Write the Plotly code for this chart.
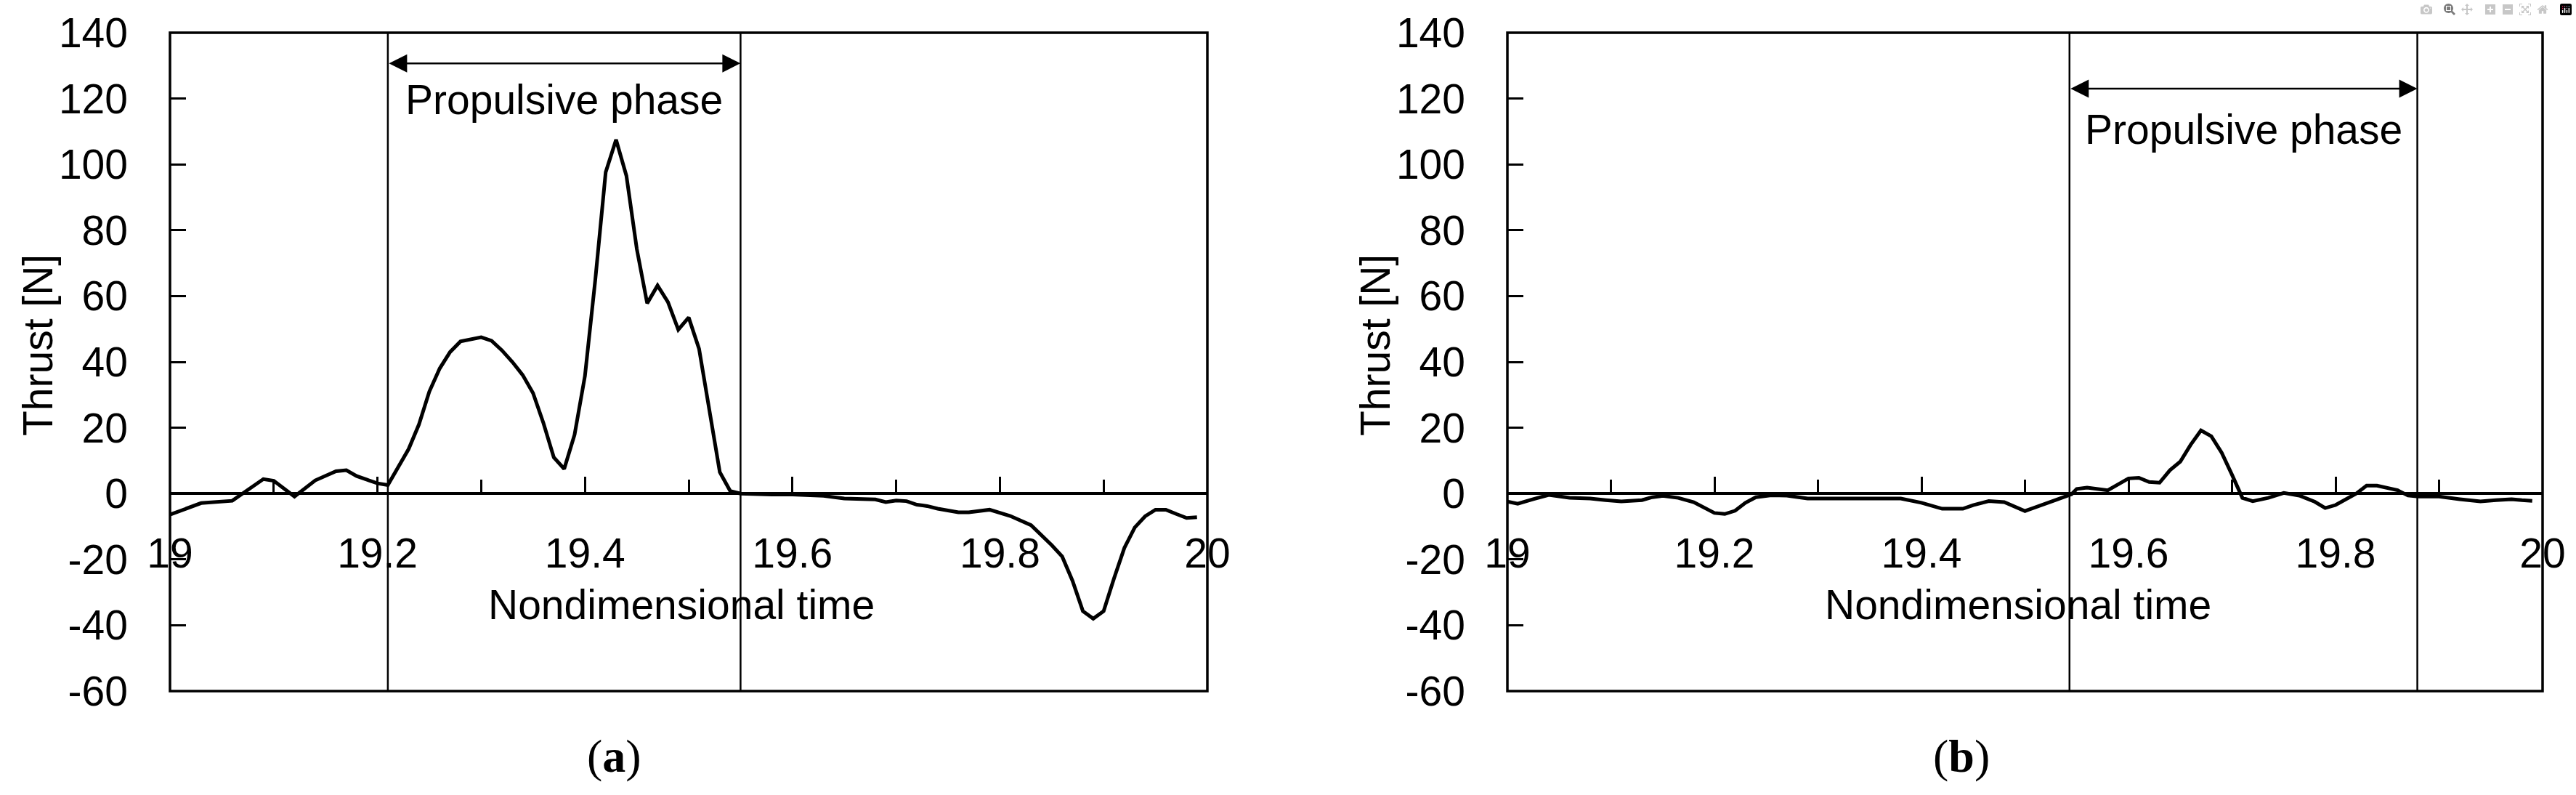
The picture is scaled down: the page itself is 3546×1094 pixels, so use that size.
import plotly.graph_objects as go

# (a) thrust history
t_a = [19.00, 19.03, 19.06, 19.09, 19.10, 19.12, 19.14, 19.16, 19.17, 19.18,
       19.19, 19.20, 19.21, 19.22, 19.23, 19.24, 19.25, 19.26, 19.27, 19.28,
       19.30, 19.31, 19.32, 19.33, 19.34, 19.35, 19.36, 19.37, 19.38, 19.39,
       19.40, 19.41, 19.42, 19.43, 19.44, 19.45, 19.46, 19.47, 19.48, 19.49,
       19.50, 19.51, 19.52, 19.53, 19.54, 19.55, 19.58, 19.60, 19.63, 19.65,
       19.68, 19.69, 19.70, 19.71, 19.72, 19.73, 19.74, 19.76, 19.77, 19.79,
       19.81, 19.83, 19.85, 19.86, 19.87, 19.88, 19.89, 19.90, 19.91, 19.92,
       19.93, 19.94, 19.95, 19.96, 19.97, 19.98, 19.99]
thrust_a = [-6.4, -2.9, -2.2, 4.4, 3.9, -0.9, 4.0, 6.8, 7.1, 5.3,
            4.2, 3.1, 2.6, 8.0, 13.5, 21.0, 31.0, 38.0, 43.0, 46.2,
            47.5, 46.4, 43.5, 40.0, 36.0, 30.5, 21.4, 11.0, 7.5, 17.9,
            35.7, 65.0, 97.6, 107.5, 96.5, 74.3, 57.8, 63.2, 58.2, 49.8,
            53.5, 44.0, 26.0, 6.5, 0.8, 0.0, -0.3, -0.3, -0.7, -1.5,
            -1.8, -2.6, -2.1, -2.3, -3.4, -3.8, -4.6, -5.7, -5.7, -4.9,
            -6.8, -9.6, -15.7, -19.1, -26.5, -35.7, -38.0, -35.7, -25.8, -16.5,
            -10.3, -6.9, -4.9, -4.9, -6.2, -7.4, -7.2]

# (b) thrust history
t_b = [19.00, 19.01, 19.025, 19.04, 19.06, 19.08, 19.095, 19.11, 19.13, 19.14,
       19.15, 19.165, 19.18, 19.19, 19.20, 19.21, 19.22, 19.23, 19.24, 19.255,
       19.27, 19.29, 19.32, 19.35, 19.38, 19.40, 19.42, 19.44, 19.45, 19.465,
       19.48, 19.50, 19.515, 19.53, 19.545, 19.55, 19.56, 19.57, 19.58, 19.60,
       19.61, 19.62, 19.63, 19.64, 19.65, 19.66, 19.67, 19.68, 19.69, 19.70,
       19.71, 19.72, 19.735, 19.75, 19.765, 19.78, 19.79, 19.80, 19.82, 19.83,
       19.84, 19.86, 19.87, 19.88, 19.90, 19.92, 19.94, 19.955, 19.97, 19.98,
       19.99]
thrust_b = [-2.4, -3.1, -1.7, -0.4, -1.3, -1.5, -2.0, -2.4, -2.0, -1.1,
            -0.7, -1.3, -2.6, -4.2, -5.9, -6.2, -5.2, -2.8, -1.1, -0.5,
            -0.6, -1.5, -1.5, -1.5, -1.5, -2.8, -4.6, -4.6, -3.5, -2.3,
            -2.6, -5.3, -3.5, -1.9, -0.2, 1.4, 1.8, 1.3, 1.0, 4.6,
            4.8, 3.5, 3.3, 7.1, 9.7, 14.8, 19.2, 17.4, 12.4, 5.7,
            -1.3, -2.3, -1.3, 0.2, -0.6, -2.5, -4.4, -3.5, 0.0, 2.4,
            2.4, 1.0, -0.6, -0.9, -0.9, -1.7, -2.4, -2.0, -1.7, -2.0,
            -2.2]

# propulsive phase limits
phase_a = [19.21, 19.55]
phase_b = [19.543, 19.879]
arrow_y = [130.7, 123.0]
label_y = [119.7, 110.6]

y_ticks = [-60, -40, -20, 0, 20, 40, 60, 80, 100, 120, 140]
y_ticklabels = ["-60", "-40", "-20", "0", "20", "40", "60", "80", "100", "120", "140"]
x_range = [19, 20]
y_range = [-60, 140]

W, H = 3546, 1094
FONT = "Liberation Sans, Arial, sans-serif"
FS = 57

dom_y = [1 - 951 / H, 1 - 45 / H]
dom_xa = [234 / W, 1662 / W]
dom_xb = [2075 / W, 3500 / W]
zero_pos = dom_y[0] + (0 - y_range[0]) / (y_range[1] - y_range[0]) * (dom_y[1] - dom_y[0])

fig = go.Figure()
fig.add_trace(go.Scatter(x=t_a, y=thrust_a, mode="lines",
                         line=dict(color="black", width=5), xaxis="x", yaxis="y"))
fig.add_trace(go.Scatter(x=t_b, y=thrust_b, mode="lines",
                         line=dict(color="black", width=5), xaxis="x2", yaxis="y2"))


def x_axis(dom):
    return dict(
        domain=dom, range=x_range, anchor="free", position=zero_pos, automargin=False,
        tick0=19, dtick=0.2, ticks="inside", ticklen=21, tickwidth=3, tickcolor="black",
        minor=dict(dtick=0.1, tick0=19, ticks="inside", ticklen=17, tickwidth=3, tickcolor="black"),
        showline=True, linewidth=3.5, linecolor="black",
        showgrid=False, zeroline=False,
        tickfont=dict(family=FONT, size=FS, color="black"),
        ticklabelstandoff=32,
    )


def y_axis(xpos):
    return dict(
        domain=dom_y, range=y_range, anchor="free", position=xpos, automargin=False,
        tickmode="array", tickvals=y_ticks, ticktext=y_ticklabels,
        ticks="inside", ticklen=21, tickwidth=3, tickcolor="black",
        showline=False, showgrid=False, zeroline=False,
        tickfont=dict(family=FONT, size=FS, color="black"),
        ticklabelstandoff=58,
    )


fig.update_layout(
    width=W, height=H,
    margin=dict(l=0, r=0, t=0, b=0, autoexpand=False),
    paper_bgcolor="white", plot_bgcolor="white",
    showlegend=False,
    xaxis=x_axis(dom_xa),
    yaxis=y_axis(dom_xa[0]),
    xaxis2=x_axis(dom_xb),
    yaxis2=y_axis(dom_xb[0]),
)

panels = [("x", "y", phase_a, dom_xa, "a"), ("x2", "y2", phase_b, dom_xb, "b")]
cap_x = [845 / W, 2700 / W]
for i, (xr, yr, phase, dom, tag) in enumerate(panels):
    # frame
    fig.add_shape(type="rect", xref=f"{xr} domain", yref=f"{yr} domain",
                  x0=0, x1=1, y0=0, y1=1, line=dict(color="black", width=3.5))
    # phase limits
    for px in phase:
        fig.add_shape(type="line", xref=xr, yref=f"{yr} domain",
                      x0=px, x1=px, y0=0, y1=1, line=dict(color="black", width=2.5))
    # double arrow
    fig.add_annotation(xref=xr, yref=yr, axref=xr, ayref=yr,
                       x=phase[1], y=arrow_y[i], ax=phase[0], ay=arrow_y[i],
                       text="", showarrow=True, arrowside="end+start",
                       arrowhead=2, startarrowhead=2, arrowsize=2, startarrowsize=2,
                       arrowwidth=2.5, arrowcolor="black", standoff=0, startstandoff=0)
    fig.add_annotation(xref=xr, yref=yr, x=sum(phase) / 2, y=label_y[i],
                       xanchor="center", yanchor="middle",
                       text="Propulsive phase", showarrow=False,
                       font=dict(family=FONT, size=FS, color="black"))
    # axis titles
    mid = (dom[0] + dom[1]) / 2
    fig.add_annotation(xref="paper", yref="paper", x=mid - 10 / W, y=1 - 832 / H,
                       xanchor="center", yanchor="middle",
                       text="Nondimensional time", showarrow=False,
                       font=dict(family=FONT, size=FS, color="black"))
    fig.add_annotation(xref="paper", yref="paper", x=dom[0] - 182 / W, y=1 - 475 / H,
                       xanchor="center", yanchor="middle",
                       text="Thrust [N]", textangle=-90, showarrow=False,
                       font=dict(family=FONT, size=FS, color="black"))
    # caption
    fig.add_annotation(xref="paper", yref="paper", x=cap_x[i], y=1 - 1040 / H,
                       xanchor="center", yanchor="middle",
                       text=f"(<b>{tag}</b>)", showarrow=False,
                       font=dict(family="Liberation Serif, Times New Roman, serif", size=64, color="black"))

fig.write_html("out.html", post_script="document.body.style.margin='0';")
